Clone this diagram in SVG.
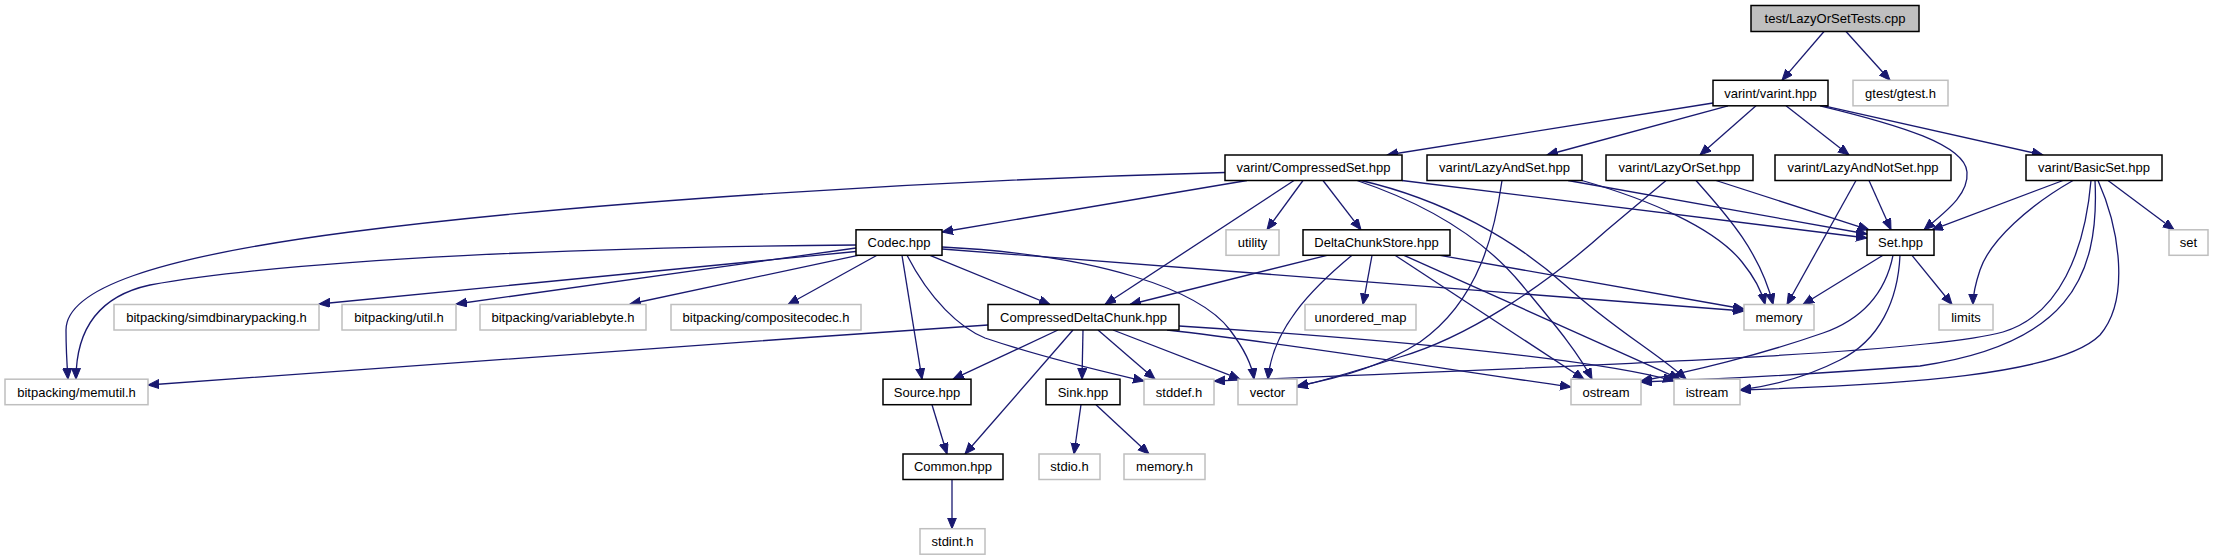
<svg xmlns="http://www.w3.org/2000/svg" width="2214" height="560" viewBox="0 0 2214 560">
<style>
.n rect{fill:#ffffff;stroke:#000000;stroke-width:1.5}
.u rect{fill:#ffffff;stroke:#bfbfbf;stroke-width:1.5}
.r rect{fill:#bfbfbf;stroke:#000000;stroke-width:1.5}
text{font-family:"Liberation Sans",Arial,sans-serif;font-size:13px;fill:#000000;text-anchor:middle}
#edges path{fill:none;stroke:#191970;stroke-width:1.3;marker-end:url(#ah)}
</style>
<defs>
<marker id="ah" markerWidth="12" markerHeight="10" refX="11" refY="4.5" orient="auto" markerUnits="userSpaceOnUse"><path d="M0,0 L11,4.5 L0,9 z" fill="#191970" stroke="#191970" stroke-width="1"/></marker>
</defs>
<rect width="2214" height="560" fill="#ffffff"/>
<g id="edges">
<path d="M1824,31.5 L1782,80.3"/>
<path d="M1846,31.5 L1890,80.3"/>
<path d="M1713,103 L1387,155"/>
<path d="M1728,105.8 L1547,155"/>
<path d="M1756,105.8 L1700,155"/>
<path d="M1786,105.8 L1849,155"/>
<path d="M1820,105.8 C1900,125 1965,145 1967,172 C1969,195 1945,212 1924,229.8"/>
<path d="M1824,105.8 L2043,155"/>
<path d="M1225,172.5 C950,180 600,200 350,232 C150,258 66,290 66,330 C66,350 67,365 68,379.2"/>
<path d="M1247,180.5 L942,232"/>
<path d="M1294,180.5 L1105,304.5"/>
<path d="M1303,180.5 L1267,229.8"/>
<path d="M1323,180.5 L1361,229.8"/>
<path d="M1402,180.5 L1867,238"/>
<path d="M1357,180.5 C1430,205 1485,240 1522,285 C1555,325 1578,352 1592,379.2"/>
<path d="M1361,180.5 C1445,200 1515,240 1565,285 C1615,330 1660,355 1686,379.2"/>
<path d="M1568,180.5 L1867,234"/>
<path d="M1582,180.5 C1650,200 1715,228 1742,262 C1755,278 1762,292 1765,304.5"/>
<path d="M1502,180.5 C1495,230 1480,300 1420,342 C1380,368 1330,380 1297,386"/>
<path d="M1666,180.5 L1607,230 C1540,290 1465,338 1400,357 C1360,370 1325,380 1297,387"/>
<path d="M1696,180.5 C1722,210 1760,250 1773,304.5"/>
<path d="M1716,180.5 L1869,229.8"/>
<path d="M1856,180.5 L1787,304.5"/>
<path d="M1869,180.5 L1891,229.8"/>
<path d="M2063,180.5 L1932,229.8"/>
<path d="M2073,180.5 C2030,205 1990,240 1980,270 C1975,285 1973,295 1973,304.5"/>
<path d="M2108,180.5 L2174,229.8"/>
<path d="M2091,180.5 C2085,250 2060,315 2003,332 C1940,350 1700,362 1214,381"/>
<path d="M2095,180.5 C2100,280 2065,345 1920,366 C1800,375 1700,380 1641,382"/>
<path d="M2098,180.5 C2120,230 2130,300 2100,335 C2060,375 1900,385 1740,390"/>
<path d="M1883,255.3 L1803,304.5"/>
<path d="M1912,255.3 L1952,304.5"/>
<path d="M1893,255.3 C1885,295 1860,320 1823,333 C1760,355 1690,372 1641,381"/>
<path d="M1900,255.3 C1898,300 1880,340 1840,360 C1805,378 1770,386 1740,390"/>
<path d="M856,245 C600,247 300,258 150,285 C90,298 76,340 76,379.2"/>
<path d="M856,251.5 L319,304"/>
<path d="M856,248 L456,304"/>
<path d="M858,255.3 L630,304"/>
<path d="M877,255.3 L788,304.5"/>
<path d="M930,255.3 L1050,304.5"/>
<path d="M902,255.3 L922,379.2"/>
<path d="M907,255.3 C930,300 960,328 985,338 C1050,360 1110,373 1144,381"/>
<path d="M942,247 C1100,255 1200,290 1230,330 C1245,350 1252,365 1254,379.2"/>
<path d="M942,249 Q1350,280 1744,311"/>
<path d="M1327,255.3 L1130,304.5"/>
<path d="M1352,255.3 C1310,290 1272,330 1268,379.2"/>
<path d="M1372,255.3 L1363,304.5"/>
<path d="M1440,255.3 L1744,309"/>
<path d="M1395,255.3 L1584,379.2"/>
<path d="M1404,255.3 L1680,379.2"/>
<path d="M988,325 C700,345 400,365 148,385"/>
<path d="M1058,330 L953,379.2"/>
<path d="M1073,330 L965,454"/>
<path d="M1083,330 L1082,379.2"/>
<path d="M1098,330 L1155,379.2"/>
<path d="M1113,330 L1240,379.2"/>
<path d="M1167,330 C1300,345 1450,370 1571,387"/>
<path d="M1179,326 C1400,340 1600,360 1674,381"/>
<path d="M932,404.7 L947,454"/>
<path d="M1081,404.7 L1074,454"/>
<path d="M1096,404.7 L1149,454"/>
<path d="M952,479.5 L952,528.7"/>
</g>
<g id="n_test" class="r"><rect x="1751" y="5.5" width="168" height="26"/><text x="1835" y="23">test/LazyOrSetTests.cpp</text></g>
<g id="n_varint" class="n"><rect x="1713" y="80.3" width="115" height="25.5"/><text x="1770.5" y="97.6">varint/varint.hpp</text></g>
<g id="n_gtest" class="u"><rect x="1853" y="80.3" width="95" height="25.5"/><text x="1900.5" y="97.6">gtest/gtest.h</text></g>
<g id="n_compressedset" class="n"><rect x="1225" y="155" width="177" height="25.5"/><text x="1313.5" y="172.3">varint/CompressedSet.hpp</text></g>
<g id="n_lazyandset" class="n"><rect x="1427" y="155" width="155" height="25.5"/><text x="1504.5" y="172.3">varint/LazyAndSet.hpp</text></g>
<g id="n_lazyorset" class="n"><rect x="1606" y="155" width="147" height="25.5"/><text x="1679.5" y="172.3">varint/LazyOrSet.hpp</text></g>
<g id="n_lazyandnotset" class="n"><rect x="1775" y="155" width="176" height="25.5"/><text x="1863" y="172.3">varint/LazyAndNotSet.hpp</text></g>
<g id="n_basicset" class="n"><rect x="2026" y="155" width="136" height="25.5"/><text x="2094" y="172.3">varint/BasicSet.hpp</text></g>
<g id="n_codec" class="n"><rect x="856" y="229.8" width="86" height="25.5"/><text x="899" y="247.1">Codec.hpp</text></g>
<g id="n_utility" class="u"><rect x="1226" y="229.8" width="53" height="25.5"/><text x="1252.5" y="247.1">utility</text></g>
<g id="n_dcs" class="n"><rect x="1303" y="229.8" width="147" height="25.5"/><text x="1376.5" y="247.1">DeltaChunkStore.hpp</text></g>
<g id="n_set_hpp" class="n"><rect x="1867" y="229.8" width="67" height="25.5"/><text x="1900.5" y="247.1">Set.hpp</text></g>
<g id="n_set" class="u"><rect x="2169" y="229.8" width="39" height="25.5"/><text x="2188.5" y="247.1">set</text></g>
<g id="n_simd" class="u"><rect x="114" y="304.5" width="205" height="25.5"/><text x="216.5" y="321.8">bitpacking/simdbinarypacking.h</text></g>
<g id="n_util" class="u"><rect x="342" y="304.5" width="114" height="25.5"/><text x="399" y="321.8">bitpacking/util.h</text></g>
<g id="n_varbyte" class="u"><rect x="480" y="304.5" width="166" height="25.5"/><text x="563" y="321.8">bitpacking/variablebyte.h</text></g>
<g id="n_composite" class="u"><rect x="671" y="304.5" width="190" height="25.5"/><text x="766" y="321.8">bitpacking/compositecodec.h</text></g>
<g id="n_cdc" class="n"><rect x="988" y="304.5" width="191" height="25.5"/><text x="1083.5" y="321.8">CompressedDeltaChunk.hpp</text></g>
<g id="n_umap" class="u"><rect x="1305" y="304.5" width="111" height="25.5"/><text x="1360.5" y="321.8">unordered_map</text></g>
<g id="n_memory" class="u"><rect x="1744" y="304.5" width="70" height="25.5"/><text x="1779" y="321.8">memory</text></g>
<g id="n_limits" class="u"><rect x="1939" y="304.5" width="54" height="25.5"/><text x="1966" y="321.8">limits</text></g>
<g id="n_memutil" class="u"><rect x="5" y="379.2" width="143" height="25.5"/><text x="76.5" y="396.5">bitpacking/memutil.h</text></g>
<g id="n_source" class="n"><rect x="883" y="379.2" width="88" height="25.5"/><text x="927" y="396.5">Source.hpp</text></g>
<g id="n_sink" class="n"><rect x="1046" y="379.2" width="74" height="25.5"/><text x="1083" y="396.5">Sink.hpp</text></g>
<g id="n_stddef" class="u"><rect x="1144" y="379.2" width="70" height="25.5"/><text x="1179" y="396.5">stddef.h</text></g>
<g id="n_vector" class="u"><rect x="1238" y="379.2" width="59" height="25.5"/><text x="1267.5" y="396.5">vector</text></g>
<g id="n_ostream" class="u"><rect x="1571" y="379.2" width="70" height="25.5"/><text x="1606" y="396.5">ostream</text></g>
<g id="n_istream" class="u"><rect x="1674" y="379.2" width="66" height="25.5"/><text x="1707" y="396.5">istream</text></g>
<g id="n_common" class="n"><rect x="903" y="454" width="100" height="25.5"/><text x="953" y="471.3">Common.hpp</text></g>
<g id="n_stdio" class="u"><rect x="1039" y="454" width="61" height="25.5"/><text x="1069.5" y="471.3">stdio.h</text></g>
<g id="n_memoryh" class="u"><rect x="1124" y="454" width="81" height="25.5"/><text x="1164.5" y="471.3">memory.h</text></g>
<g id="n_stdint" class="u"><rect x="920" y="528.7" width="65" height="25.5"/><text x="952.5" y="546">stdint.h</text></g>
</svg>
